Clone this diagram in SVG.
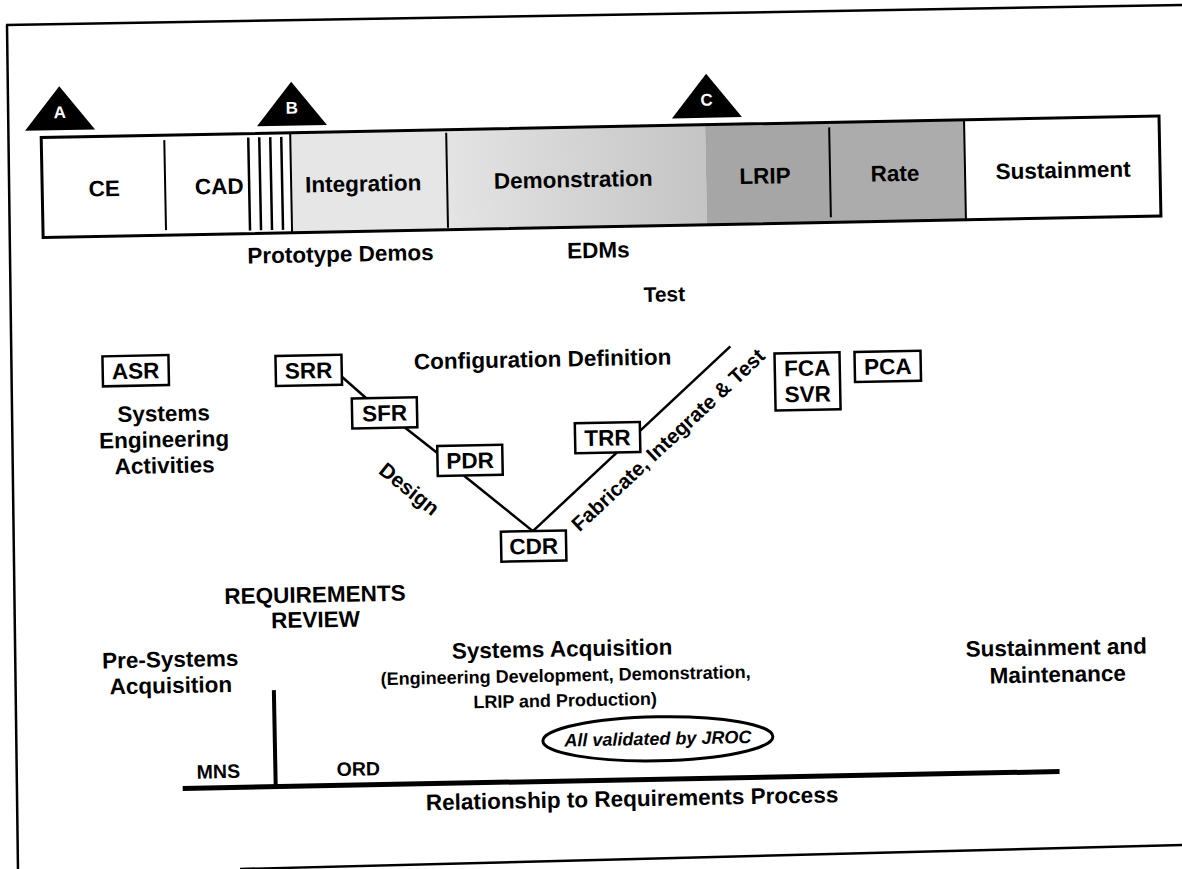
<svg xmlns="http://www.w3.org/2000/svg" width="1182" height="869" viewBox="0 0 1182 869">
<defs>
<style>
.t{font-family:"Liberation Sans",Arial,Helvetica,sans-serif;font-weight:bold;text-anchor:middle;fill:#000}
.m{font-size:22.5px}
.s{font-size:18px}
.box{fill:#fff;stroke:#000;stroke-width:2.5}
.ln{fill:none;stroke:#000;stroke-width:2.5}
.tri{fill:#000}
.tl{font-family:"Liberation Sans",Arial,sans-serif;font-weight:bold;font-size:17px;fill:#fff;text-anchor:middle}
.div{stroke:#000;stroke-width:2}
.fr{stroke:#000;stroke-width:2.5;fill:none}
</style>
<linearGradient id="demo" x1="0" y1="0" x2="1" y2="0">
<stop offset="0" stop-color="#e4e4e4"/>
<stop offset="1" stop-color="#c4c4c4"/>
</linearGradient>
</defs>
<rect width="1182" height="869" fill="#fff"/>
<g id="frame">
<line class="fr" x1="6" y1="25" x2="1184" y2="5"/>
<line class="fr" x1="7" y1="25" x2="18" y2="871"/>
<line class="fr" x1="240" y1="869" x2="1184" y2="845"/>
</g>
<g transform="rotate(-1.1 591 434)">

<g id="milestones">
<g id="ms-A"><polygon class="tri" points="66,76 31,120 101,120"/><text class="tl" x="66" y="108">A</text></g>
<g id="ms-B"><polygon class="tri" points="298,76 263,120 333,120"/><text class="tl" x="298" y="108">B</text></g>
<g id="ms-C"><polygon class="tri" points="713,76 678,120 748,120"/><text class="tl" x="713" y="108">C</text></g>
</g>

<g id="phase-bar">
<rect x="47" y="127" width="1118" height="100" fill="#fff"/>
<rect x="296" y="127" width="156" height="100" fill="#e6e6e6"/>
<rect x="452" y="127" width="259" height="100" fill="url(#demo)"/>
<rect x="711" y="127" width="124" height="100" fill="#a6a6a6"/>
<rect x="835" y="127" width="135" height="100" fill="#acacac"/>
<line class="div" x1="170" y1="132" x2="170" y2="222"/>
<line x1="254" y1="131" x2="254" y2="224" stroke="#000" stroke-width="2.5"/>
<line x1="265" y1="131" x2="265" y2="224" stroke="#000" stroke-width="2.5"/>
<line x1="276" y1="131" x2="276" y2="224" stroke="#000" stroke-width="2.5"/>
<line x1="287" y1="131" x2="287" y2="224" stroke="#000" stroke-width="2.5"/>
<line class="div" x1="296" y1="127" x2="296" y2="227"/>
<line class="div" x1="452" y1="130" x2="452" y2="225"/>
<line class="div" x1="835" y1="132" x2="835" y2="222"/>
<line class="div" x1="970" y1="127" x2="970" y2="227"/>
<rect x="47" y="127" width="1118" height="100" fill="none" stroke="#000" stroke-width="3"/>
<text class="t m" x="109" y="187">CE</text>
<text class="t m" x="224" y="187">CAD</text>
<text class="t m" x="368" y="187">Integration</text>
<text class="t m" x="578" y="187">Demonstration</text>
<text class="t m" x="770" y="187">LRIP</text>
<text class="t m" x="900" y="187">Rate</text>
<text class="t m" x="1068" y="187">Sustainment</text>
</g>

<g id="labels">
<text class="t m" x="344" y="257">Prototype Demos</text>
<text class="t m" x="602" y="258">EDMs</text>
<text class="t" style="font-size:21px" x="667" y="303">Test</text>
<text class="t m" x="544" y="366">Configuration Definition</text>
<text class="t m" x="164" y="413">Systems</text>
<text class="t m" x="164" y="439">Engineering</text>
<text class="t m" x="164" y="465">Activities</text>
<text class="t" style="font-size:21px" transform="translate(408 485.5) rotate(40)" x="0" y="7">Design</text>
<text class="t" style="font-size:20.5px" transform="translate(668 441.5) rotate(-42)" x="0" y="7">Fabricate, Integrate &amp; Test</text>
<text class="t m" x="312" y="597">REQUIREMENTS</text>
<text class="t m" x="312" y="622">REVIEW</text>
<text class="t m" x="166" y="659">Pre-Systems</text>
<text class="t m" x="166" y="685">Acquisition</text>
<text class="t m" x="558" y="656">Systems Acquisition</text>
<text class="t s" x="561" y="681">(Engineering Development, Demonstration,</text>
<text class="t s" x="560" y="706">LRIP and Production)</text>
<text class="t m" x="1052" y="664">Sustainment and</text>
<text class="t m" x="1053" y="691">Maintenance</text>
<text class="t" style="font-size:19.5px" x="212" y="771">MNS</text>
<text class="t" style="font-size:19.5px" x="352" y="771">ORD</text>
<text class="t m" x="625" y="807">Relationship to Requirements Process</text>
</g>

<g id="connectors">
<line class="ln" x1="343" y1="372" x2="367" y2="394"/>
<line class="ln" x1="405" y1="424" x2="437" y2="450"/>
<line class="ln" x1="463" y1="473" x2="531" y2="530"/>
<line class="ln" x1="531" y1="530" x2="732" y2="349"/>
<line x1="269" y1="684" x2="269" y2="782" stroke="#000" stroke-width="4"/>
<line x1="176" y1="780.5" x2="1053" y2="780.5" stroke="#000" stroke-width="5"/>
</g>

<g id="node-ASR"><rect class="box" x="104" y="347" width="66" height="30"/><text class="t m" x="137" y="370">ASR</text></g>
<g id="node-SRR"><rect class="box" x="277" y="350" width="66" height="30"/><text class="t m" x="310" y="373">SRR</text></g>
<g id="node-SFR"><rect class="box" x="352.5" y="394" width="65" height="30"/><text class="t m" x="385" y="417">SFR</text></g>
<g id="node-PDR"><rect class="box" x="437" y="443" width="65" height="30"/><text class="t m" x="469.5" y="466">PDR</text></g>
<g id="node-CDR"><rect class="box" x="499" y="530" width="65" height="30"/><text class="t m" x="531.5" y="553">CDR</text></g>
<g id="node-TRR"><rect class="box" x="575" y="423" width="65" height="30"/><text class="t m" x="607.5" y="446">TRR</text></g>
<g id="node-FCA"><rect class="box" x="776" y="357" width="65" height="57"/><text class="t m" x="808.5" y="380">FCA</text><text class="t m" x="808.5" y="406">SVR</text></g>
<g id="node-PCA"><rect class="box" x="856" y="357" width="66" height="30"/><text class="t m" x="889" y="380">PCA</text></g>
<g id="node-JROC"><ellipse cx="652" cy="740" rx="115" ry="22" fill="#fff" stroke="#000" stroke-width="3"/><text class="t" style="font-size:18px;font-style:italic" x="652" y="746">All validated by JROC</text></g>
</g>
</svg>
